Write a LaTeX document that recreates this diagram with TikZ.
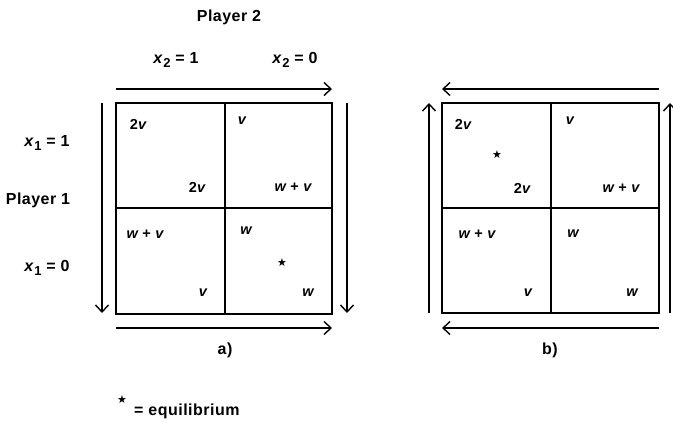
\documentclass[tikz,border=0pt]{standalone}
\usepackage{fontspec}
\setmainfont{Liberation Sans}[LetterSpace=3]
\newfontfamily\starfont{DejaVu Sans}
\usetikzlibrary{arrows.meta}
\newcommand{\eqstar}{{\starfont\fontsize{11}{11}\selectfont ★}}
\newcommand{\pvar}[2]{\textit{#1}\raisebox{-0.45ex}{\fontsize{13}{13}\selectfont #2}}
\tikzset{
    payoff/.style={font=\fontsize{14.5}{16}\selectfont\bfseries\itshape, inner sep=0pt},
    caption/.style={font=\fontsize{16}{18}\selectfont\bfseries, inner sep=0pt},
    flow/.style={-{Straight Barb[length=7pt,width=13pt]}, line width=1.4pt},
    board/.style={line width=1.5pt}
}
\begin{document}
\begin{tikzpicture}[x=1pt,y=-1pt]
\useasboundingbox (0,0) rectangle (673,433);
% game a
\coordinate (anw) at (116,103);
\coordinate (ase) at (332,314);
\draw[board] (anw) rectangle (ase);
\draw[board] (225,103) -- (225,314) (116,208) -- (332,208);
\coordinate (at1) at (116,89);  \coordinate (at2) at (332,89);
\coordinate (ab1) at (116,328); \coordinate (ab2) at (332,328);
\coordinate (al1) at (102,103); \coordinate (al2) at (102,313);
\coordinate (ar1) at (347,103); \coordinate (ar2) at (347,313);
\draw[flow] (at1) -- (at2);
\draw[flow] (ab1) -- (ab2);
\draw[flow] (al1) -- (al2);
\draw[flow] (ar1) -- (ar2);
\node[payoff] (a11r) at (138,124) {\upshape 2\itshape v};
\node[payoff] (a11c) at (197,187) {\upshape 2\itshape v};
\node[payoff] (a12r) at (242,121) {v};
\node[payoff] (a12c) at (293,187) {w \upshape+ \itshape v};
\node[payoff] (a21r) at (145,234) {w \upshape+ \itshape v};
\node[payoff] (a21c) at (203,293) {v};
\node[payoff] (a22r) at (246,231) {w};
\node[payoff] (a22c) at (308,293) {w};
\node[inner sep=0pt] (aeq) at (282,263) {\eqstar};
\node[caption] (alab) at (225,350) {a)};
% game b
\coordinate (bnw) at (442,103);
\coordinate (bse) at (659,313);
\draw[board] (bnw) rectangle (bse);
\draw[board] (551,103) -- (551,313) (442,208) -- (659,208);
\coordinate (bt1) at (659,89);  \coordinate (bt2) at (442,89);
\coordinate (bb1) at (659,328); \coordinate (bb2) at (442,328);
\coordinate (bl1) at (429,313); \coordinate (bl2) at (429,103);
\coordinate (br1) at (670,313); \coordinate (br2) at (670,103);
\draw[flow] (bt1) -- (bt2);
\draw[flow] (bb1) -- (bb2);
\draw[flow] (bl1) -- (bl2);
\draw[flow] (br1) -- (br2);
\node[payoff] (b11r) at (463,124) {\upshape 2\itshape v};
\node[payoff] (b11c) at (522,188) {\upshape 2\itshape v};
\node[payoff] (b12r) at (570,121) {v};
\node[payoff] (b12c) at (621,188) {w \upshape+ \itshape v};
\node[payoff] (b21r) at (477,234) {w \upshape+ \itshape v};
\node[payoff] (b21c) at (528,293) {v};
\node[payoff] (b22r) at (573,234) {w};
\node[payoff] (b22c) at (632,293) {w};
\node[inner sep=0pt] (beq) at (497,155) {\eqstar};
\node[caption] (blab) at (550,350) {b)};
% players
\node[caption] (p2) at (229,17) {Player 2};
\node[caption] (x21) at (176,60) {\pvar{x}{2} = 1};
\node[caption] (x20) at (295,60) {\pvar{x}{2} = 0};
\node[caption] (x11) at (47,143) {\pvar{x}{1} = 1};
\node[caption] (p1) at (38,200) {Player 1};
\node[caption] (x10) at (47,268) {\pvar{x}{1} = 0};
% legend
\node[inner sep=0pt] (leg) at (122,400) {\eqstar};
\node[caption, anchor=west] (legt) at (134,411) {= equilibrium};
\end{tikzpicture}
\end{document}
